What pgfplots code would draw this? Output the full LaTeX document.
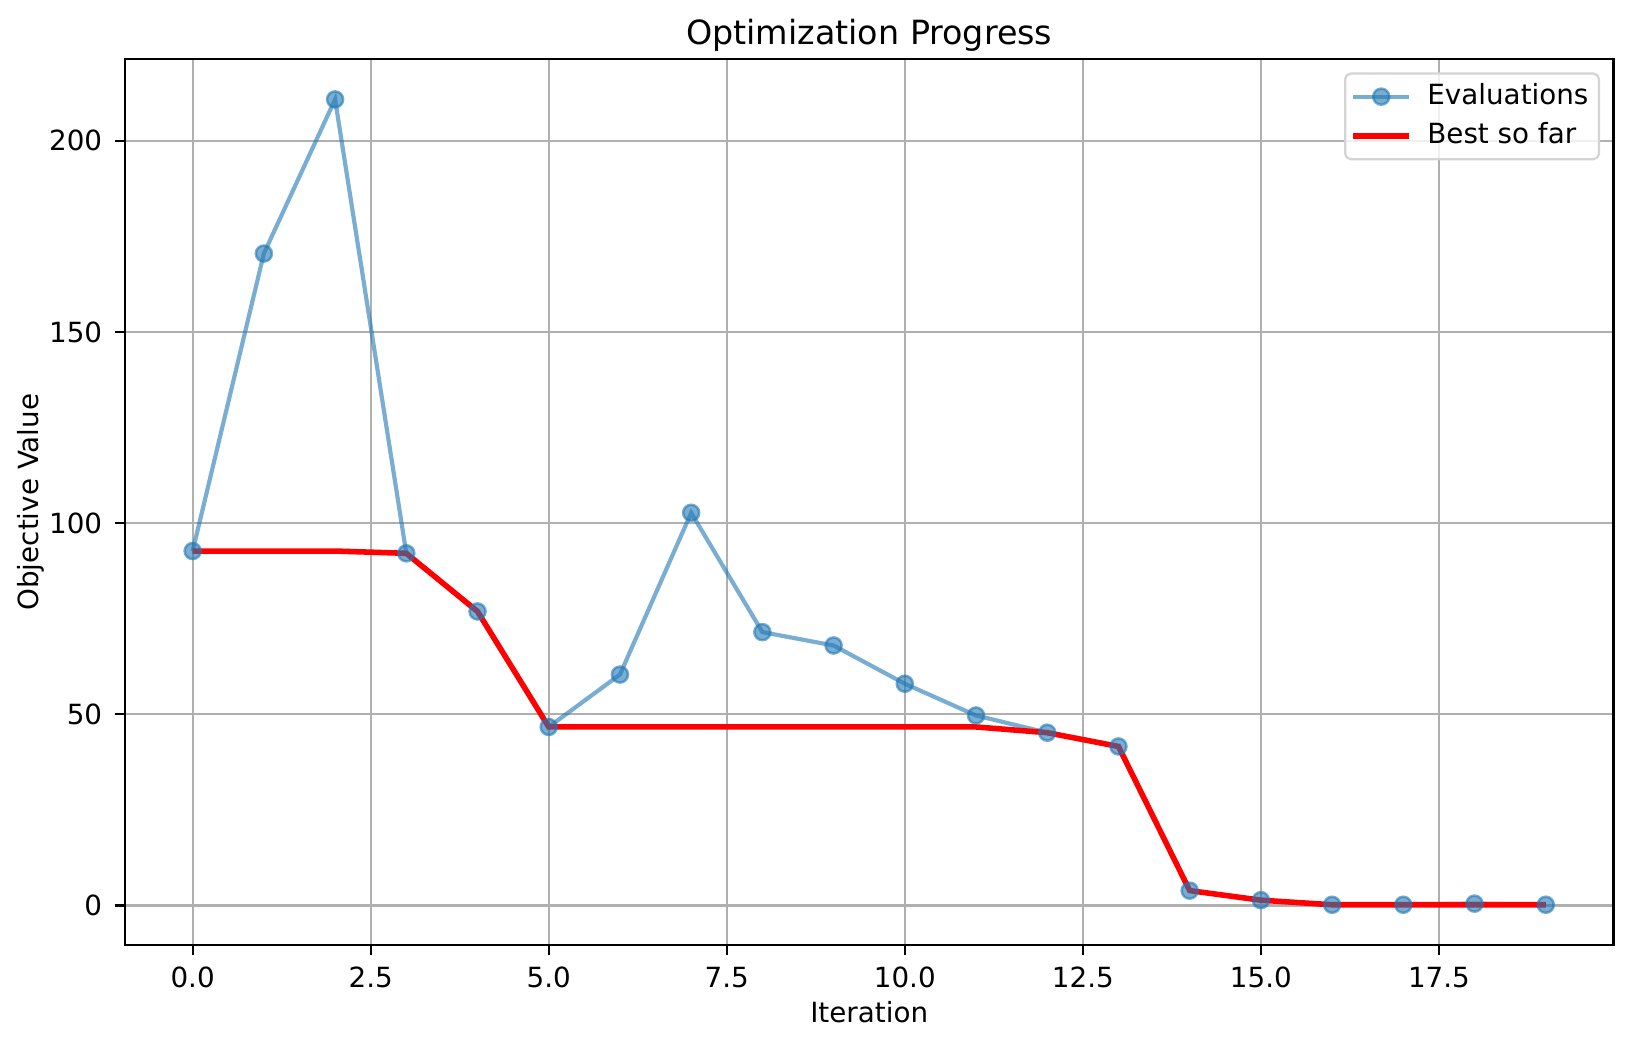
\documentclass[border=0pt]{standalone}
\usepackage{pgfplots}
\pgfplotsset{compat=1.18}
\usepackage{fontspec}
\setmainfont{DejaVu Sans}
\definecolor{tabblue}{HTML}{1F77B4}
\definecolor{gridgray}{HTML}{B0B0B0}
\definecolor{legedge}{HTML}{D4D4D4}
\begin{document}
\begin{tikzpicture}
\begin{axis}[
  scale only axis,
  width=535.8pt, height=318.9pt,
  xmin=-0.95, xmax=19.95,
  ymin=-10.33, ymax=221.33,
  xtick={0,2.5,...,17.5},
  ytick={0,50,100,150,200},
  xticklabel style={/pgf/number format/fixed, /pgf/number format/fixed zerofill, /pgf/number format/precision=1, yshift=-1.0pt},
  /pgf/number format/assume math mode=true,
  tick pos=left,
  tick align=outside,
  major tick length=3.5pt,
  tick style={black, line width=0.8pt},
  axis line style={line width=0.8pt},
  grid=major,
  major grid style={gridgray, line width=0.8pt},
  ticklabel style={font=\fontsize{10}{12}\selectfont},
  yticklabel style={xshift=-1.2pt},
  label style={font=\fontsize{10}{12}\selectfont},
  every axis title shift=0pt,
  title style={font=\fontsize{12}{14}\selectfont, at={(axis description cs:0.5,1)}, anchor=center, yshift=8.6pt},
  title={Optimization Progress},
  xlabel style={at={(axis description cs:0.5,0)}, anchor=center, yshift=-24.1pt},
  ylabel style={at={(axis description cs:0,0.5)}, anchor=center, yshift=33.8pt},
  xlabel={Iteration},
  ylabel={Objective Value},
  legend style={at={(1,1)}, anchor=north east, xshift=-4.8pt, yshift=-4.8pt,
    draw=legedge, line width=0.8pt, rounded corners=2pt, fill=white, fill opacity=0.8, text opacity=1,
    font=\fontsize{10}{12}\selectfont, inner xsep=2pt, inner ysep=1.2pt, row sep=0pt,
    nodes={inner xsep=1.8pt, inner ysep=3.3pt, text height=6.6pt, text depth=1pt},
    /tikz/every odd column/.append style={column sep=3.8pt}},
  legend cell align=left,
  legend image code/.code={\draw[mark repeat=2,mark phase=2] plot coordinates {(0pt,0pt) (10pt,0pt) (20pt,0pt)};},
]
\addplot[tabblue, opacity=0.6, line width=1.5pt, mark=*, mark size=2.9pt, mark options={line width=0.9pt}] coordinates {
(0,92.7) (1,170.5) (2,210.8) (3,92.1) (4,76.9) (5,46.7) (6,60.4) (7,102.7) (8,71.5) (9,68.0)
(10,58.0) (11,49.7) (12,45.2) (13,41.6) (14,3.9) (15,1.4) (16,0.2) (17,0.2) (18,0.5) (19,0.2)
};
\addlegendentry{Evaluations}
\addplot[red, line width=2pt, no marks] coordinates {
(0,92.7) (1,92.7) (2,92.7) (3,92.1) (4,76.9) (5,46.7) (6,46.7) (7,46.7) (8,46.7) (9,46.7)
(10,46.7) (11,46.7) (12,45.2) (13,41.6) (14,3.9) (15,1.4) (16,0.2) (17,0.2) (18,0.2) (19,0.2)
};
\addlegendentry{Best so far}
\end{axis}
\pgfresetboundingbox
\path[use as bounding box] ([shift={(-45pt,-36.4pt)}]current axis.south west) rectangle ([shift={(6.7pt,21.3pt)}]current axis.north east);
\end{tikzpicture}
\end{document}
